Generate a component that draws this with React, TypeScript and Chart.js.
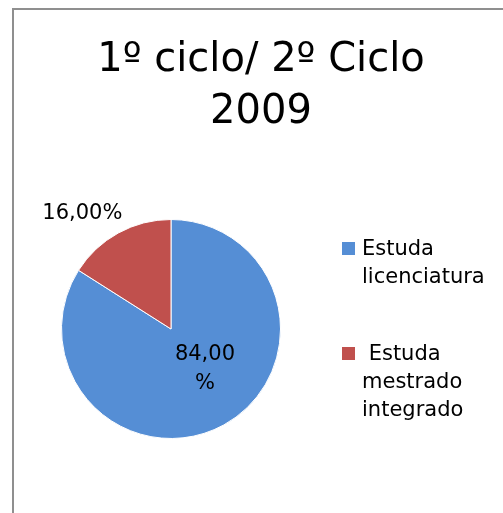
import React, { useEffect, useRef } from "react";
import { Chart, registerables } from "chart.js";

Chart.register(...registerables);

const titleLines = ["1º ciclo/ 2º Ciclo", "2009"];
const categories = ["Estuda licenciatura", "Estuda mestrado integrado"];
const legendLines = [["Estuda", "licenciatura"], [" Estuda", "mestrado", "integrado"]];
const values = [84, 16];
const valueLabels = [["84,00", "%"], ["16,00%"]];
const colors = ["#558ED5", "#C0504D"];

const FONT = "'DejaVu Sans', sans-serif";

const overlay = {
  id: "overlay",
  beforeDraw(chart: any) {
    const ctx = chart.ctx;
    ctx.save();
    ctx.fillStyle = "#ffffff";
    ctx.fillRect(0, 0, chart.width, chart.height);
    ctx.strokeStyle = "#8f8f8f";
    ctx.lineWidth = 2;
    ctx.beginPath();
    ctx.moveTo(13, chart.height);
    ctx.lineTo(13, 9);
    ctx.lineTo(chart.width, 9);
    ctx.stroke();
    ctx.restore();
  },
  afterDraw(chart: any) {
    const ctx = chart.ctx;
    ctx.save();
    ctx.fillStyle = "#000000";
    ctx.textBaseline = "alphabetic";
    // title
    ctx.textAlign = "center";
    ctx.font = `40px ${FONT}`;
    ctx.fillText(titleLines[0], 261, 71);
    ctx.fillText(titleLines[1], 261, 123);

    // data labels from arc geometry
    const meta = chart.getDatasetMeta(0);
    const a0 = meta.data[0];
    const a1 = meta.data[1];
    const cx = a0.x;
    const cy = a0.y;
    const r = a0.outerRadius;
    ctx.font = `21px ${FONT}`;
    ctx.textAlign = "center";
    // big slice label (inside)
    const p0x = cx + r * 0.31;
    const p0y = cy + r * 0.28;
    ctx.fillText(valueLabels[0][0], p0x, p0y);
    ctx.fillText(valueLabels[0][1], p0x, p0y + 29);
    // small slice label (outside)
    const mid1 = (a1.startAngle + a1.endAngle) / 2;
    const p1x = cx + Math.cos(mid1) * r * 1.13 - 29;
    const p1y = cy + Math.sin(mid1) * r * 1.13 - 2;
    ctx.fillText(valueLabels[1][0], p1x, p1y);

    // legend
    ctx.textAlign = "left";
    const starts = [255, 360];
    legendLines.forEach((lines, i) => {
      ctx.fillStyle = colors[i];
      ctx.fillRect(342, starts[i] - 13, 13, 13);
      ctx.fillStyle = "#000000";
      lines.forEach((t, j) => {
        ctx.fillText(t, 362, starts[i] + j * 28);
      });
    });
    ctx.restore();
  },
};

export default function App() {
  const ref = useRef<HTMLCanvasElement>(null);
  useEffect(() => {
    if (!ref.current) return;
    const chart = new Chart(ref.current, {
      type: "pie",
      data: {
        labels: categories,
        datasets: [
          {
            data: values,
            backgroundColor: colors,
            borderColor: "#ffffff",
            borderWidth: 1,
          },
        ],
      },
      options: {
        animation: false,
        responsive: false,
        events: [],
        layout: { padding: { left: 61, right: 222, top: 219, bottom: 74 } },
        plugins: {
          legend: { display: false },
          title: { display: false },
          tooltip: { enabled: false },
        },
      },
      plugins: [overlay],
    });
    return () => chart.destroy();
  }, []);
  return (
    <div style={{ position: "fixed", left: 0, top: 0, width: 503, height: 513 }}>
      <canvas ref={ref} width={503} height={513} style={{ width: 503, height: 513 }} />
    </div>
  );
}
